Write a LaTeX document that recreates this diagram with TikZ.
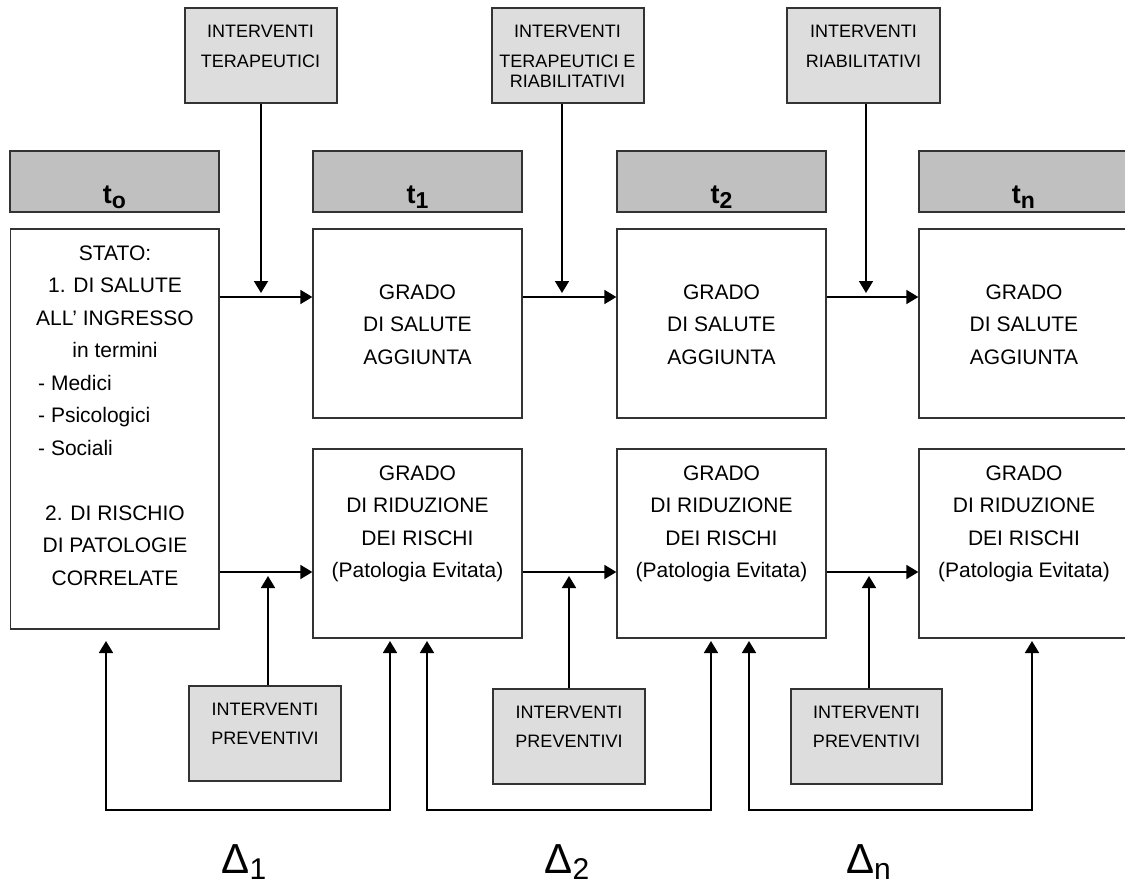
\documentclass[tikz,border=0pt]{standalone}
\usepackage{fontspec}
\setmainfont{Liberation Sans}
\usetikzlibrary{arrows.meta}
\definecolor{lightbox}{HTML}{DDDDDD}
\definecolor{hdrbox}{HTML}{C0C0C0}
\definecolor{edgecol}{HTML}{333333}
\begin{document}
\begin{tikzpicture}[x=1pt,y=-1pt,
  greybox/.style={draw=edgecol, line width=1.3pt, fill=lightbox, minimum width=152pt, minimum height=95pt, inner sep=0pt},
  hdr/.style={draw=edgecol, line width=1.3pt, fill=hdrbox, minimum width=209pt, minimum height=61pt, inner sep=0pt},
  mainbox/.style={draw=edgecol, line width=1.3pt, fill=white, minimum width=209pt, minimum height=189pt, inner sep=0pt},
  txt/.style={inner sep=0pt, anchor=base, font=\fontsize{21}{32.5}\selectfont},
  smalltxt/.style={inner sep=0pt, anchor=base, font=\fontsize{18}{30}\selectfont},
  prevtxt/.style={inner sep=0pt, anchor=base, font=\fontsize{18}{29}\selectfont},
  hlabel/.style={inner sep=0pt, anchor=base, font=\bfseries\fontsize{27}{30}\selectfont},
  dlabel/.style={inner sep=0pt, anchor=base, font=\fontsize{42}{44}\selectfont},
  arr/.style={line width=1.8pt, -{Triangle[length=12pt,width=14pt]}},
  barr/.style={line width=1.8pt, {Triangle[length=12pt,width=14pt]}-{Triangle[length=12pt,width=14pt]}}
]
\useasboundingbox (0,0) rectangle (1125,886);
\clip (0,0) rectangle (1125,886);

% top intervention boxes
\node[greybox] (topA) at (261,55.5) {};
\node[greybox] (topB) at (568,55.5) {};
\node[greybox, minimum width=153pt] (topC) at (863.5,55.5) {};
\node[smalltxt] (tA) at (260.5,37) {\begin{tabular}[t]{@{}c@{}}INTERVENTI\\TERAPEUTICI\end{tabular}};
\node[smalltxt] (tB) at (567.5,37) {\begin{tabular}[t]{@{}c@{}}INTERVENTI\\TERAPEUTICI E\\[-9pt]RIABILITATIVI\end{tabular}};
\node[smalltxt] (tC) at (863.5,37) {\begin{tabular}[t]{@{}c@{}}INTERVENTI\\RIABILITATIVI\end{tabular}};

% header bars
\node[hdr] (h0) at (114.5,181.5) {};
\node[hdr] (h1) at (417.5,181.5) {};
\node[hdr] (h2) at (721.5,181.5) {};
\node[hdr] (hn) at (1023.5,181.5) {};
\node[hlabel] (x0) at (114.5,203) {t\raisebox{-5pt}{\fontsize{23}{23}\selectfont o}};
\node[hlabel] (x1) at (417.5,203) {t\raisebox{-5pt}{\fontsize{23}{23}\selectfont 1}};
\node[hlabel] (x2) at (721.5,203) {t\raisebox{-5pt}{\fontsize{23}{23}\selectfont 2}};
\node[hlabel] (xn) at (1023.5,203) {t\raisebox{-5pt}{\fontsize{23}{23}\selectfont n}};

% main boxes
\node[mainbox, minimum width=208.5pt, minimum height=400pt] (s0) at (114.75,429) {};
\node[mainbox] (u1) at (417.5,323.5) {};
\node[mainbox] (u2) at (721.5,323.5) {};
\node[mainbox] (un) at (1023.5,323.5) {};
\node[mainbox] (l1) at (417.5,543.5) {};
\node[mainbox] (l2) at (721.5,543.5) {};
\node[mainbox] (ln) at (1023.5,543.5) {};

\node[txt] (s0a) at (115,260) {\begin{tabular}[t]{@{}c@{}}STATO:\\1. DI SALUTE\\ALL’ INGRESSO\\in termini\end{tabular}};
\node[txt, anchor=base west] (s0b) at (38,390) {\begin{tabular}[t]{@{}l@{}}- Medici\\- Psicologici\\- Sociali\end{tabular}};
\node[txt] (s0c) at (115,520) {\begin{tabular}[t]{@{}c@{}}2. DI RISCHIO\\DI PATOLOGIE\\CORRELATE\end{tabular}};

\node[txt] (u1t) at (417.5,299) {\begin{tabular}[t]{@{}c@{}}GRADO\\DI SALUTE\\AGGIUNTA\end{tabular}};
\node[txt] (u2t) at (721.5,299) {\begin{tabular}[t]{@{}c@{}}GRADO\\DI SALUTE\\AGGIUNTA\end{tabular}};
\node[txt] (unt) at (1024,299) {\begin{tabular}[t]{@{}c@{}}GRADO\\DI SALUTE\\AGGIUNTA\end{tabular}};
\node[txt] (l1t) at (417.5,480) {\begin{tabular}[t]{@{}c@{}}GRADO\\DI RIDUZIONE\\DEI RISCHI\\(Patologia Evitata)\end{tabular}};
\node[txt] (l2t) at (721.5,480) {\begin{tabular}[t]{@{}c@{}}GRADO\\DI RIDUZIONE\\DEI RISCHI\\(Patologia Evitata)\end{tabular}};
\node[txt] (lnt) at (1024,480) {\begin{tabular}[t]{@{}c@{}}GRADO\\DI RIDUZIONE\\DEI RISCHI\\(Patologia Evitata)\end{tabular}};

% preventive boxes
\node[greybox] (p1) at (265,733.5) {};
\node[greybox] (p2) at (569,736.5) {};
\node[greybox, minimum width=151pt] (p3) at (866.5,736.5) {};
\node[prevtxt] (p1t) at (265,715) {\begin{tabular}[t]{@{}c@{}}INTERVENTI\\PREVENTIVI\end{tabular}};
\node[prevtxt] (p2t) at (569,718) {\begin{tabular}[t]{@{}c@{}}INTERVENTI\\PREVENTIVI\end{tabular}};
\node[prevtxt] (p3t) at (866.5,718) {\begin{tabular}[t]{@{}c@{}}INTERVENTI\\PREVENTIVI\end{tabular}};

% deltas
\node[dlabel] (d1) at (244,873) {Δ\raisebox{-6pt}{\fontsize{30}{30}\selectfont 1}};
\node[dlabel] (d2) at (567,873) {Δ\raisebox{-6pt}{\fontsize{30}{30}\selectfont 2}};
\node[dlabel] (dn) at (868.5,873) {Δ\raisebox{-6pt}{\fontsize{30}{30}\selectfont n}};

% horizontal flow arrows
\coordinate (yU) at (0,297);
\coordinate (yL) at (0,572);
\draw[arr] (s0.east |- yU) -- (u1.west |- yU);
\draw[arr] (u1.east |- yU) -- (u2.west |- yU);
\draw[arr] (u2.east |- yU) -- (un.west |- yU);
\draw[arr] (s0.east |- yL) -- (l1.west |- yL);
\draw[arr] (l1.east |- yL) -- (l2.west |- yL);
\draw[arr] (l2.east |- yL) -- (ln.west |- yL);

% intervention arrows
\coordinate (jA) at (261,293);
\coordinate (jB) at (562,293);
\coordinate (jC) at (866,293);
\draw[arr] (topA.south -| jA) -- (jA);
\draw[arr] (topB.south -| jB) -- (jB);
\draw[arr] (topC.south -| jC) -- (jC);
\coordinate (kA) at (268,576);
\coordinate (kB) at (569,576);
\coordinate (kC) at (869,576);
\draw[arr] (p1.north -| kA) -- (kA);
\draw[arr] (p2.north -| kB) -- (kB);
\draw[arr] (p3.north -| kC) -- (kC);

% feedback loops
\coordinate (fb) at (0,810);
\coordinate (f1a) at (106,641);
\coordinate (f1b) at (390,641);
\coordinate (f2a) at (427,641);
\coordinate (f2b) at (711,641);
\coordinate (f3a) at (749,641);
\coordinate (f3b) at (1032,641);
\draw[barr] (f1a) -- (f1a |- fb) -| (f1b);
\draw[barr] (f2a) -- (f2a |- fb) -| (f2b);
\draw[barr] (f3a) -- (f3a |- fb) -| (f3b);
\end{tikzpicture}
\end{document}
